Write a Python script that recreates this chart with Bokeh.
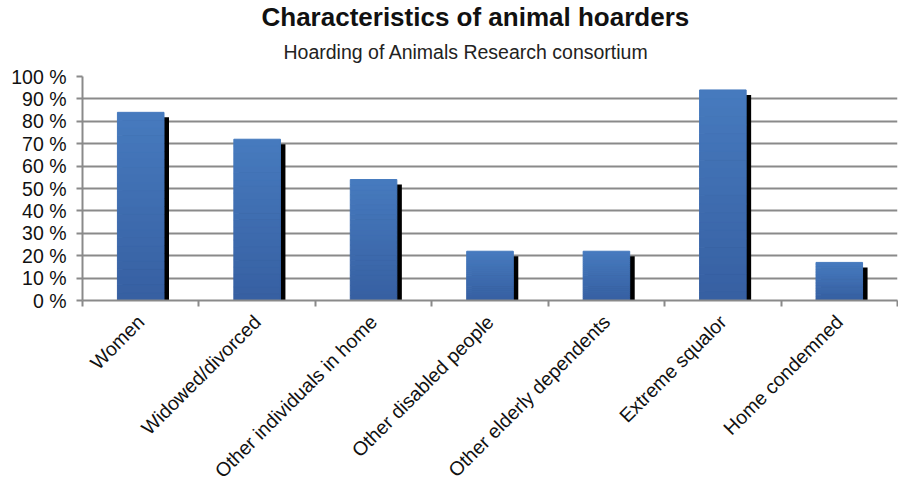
import numpy as np
from bokeh.plotting import figure
from bokeh.models import FixedTicker, Range1d, Title, ColumnDataSource
from bokeh.embed import file_html
from bokeh.resources import INLINE

categories = ["Women", "Widowed/divorced", "Other individuals in home",
              "Other disabled people", "Other elderly dependents",
              "Extreme squalor", "Home condemned"]
values = [84, 72, 54, 22, 22, 94, 17]
y_ticks = [0, 10, 20, 30, 40, 50, 60, 70, 80, 90, 100]
y_tick_labels = ["%d %%" % t for t in y_ticks]

FONT = "Liberation Sans"
n = len(categories)
centers = [i + 0.5 for i in range(n)]
bounds = list(range(n + 1))

p = figure(width=898, height=499, output_backend="svg", toolbar_location=None,
           x_range=Range1d(0, n), y_range=Range1d(0, 100),
           min_border_left=82, min_border_right=1, min_border_top=76, min_border_bottom=199)
p.outline_line_color = None
p.background_fill_color = "white"

p.add_layout(Title(text="Hoarding of Animals Research consortium", align="left",
                   text_font=FONT, text_font_size="19.5px", text_font_style="normal",
                   text_color="#222222", offset=201, standoff=28), "above")
p.add_layout(Title(text="Characteristics of animal hoarders", align="left",
                   text_font=FONT, text_font_size="26px", text_font_style="bold",
                   text_color="#111111", offset=179, standoff=-14), "above")

# shadows
bw = 0.40
dx = 5 / 116.4
dy = 5 / 2.24
sh = ColumnDataSource(dict(l=[c - bw / 2 + dx for c in centers], r=[c + bw / 2 + dx for c in centers],
                           t=[v - dy for v in values], b=[0] * n))
p.quad(left="l", right="r", top="t", bottom="b", source=sh, fill_color="black", line_color=None)

# gradient bars
N = 24
top_c = np.array([0x47, 0x7b, 0xbf])
bot_c = np.array([0x37, 0x60, 0xa2])
L, R, T, B, C = [], [], [], [], []
for c, v in zip(centers, values):
    for k in range(N):
        f = (k + 0.5) / N
        col = bot_c + (top_c - bot_c) * f
        L.append(c - bw / 2); R.append(c + bw / 2)
        B.append(v * k / N); T.append(v * (k + 1) / N)
        C.append("#%02x%02x%02x" % tuple(int(x) for x in col))
p.quad(left=L, right=R, top=T, bottom=B, fill_color=C, line_color=C, line_width=1)

# y axis
p.yaxis.ticker = FixedTicker(ticks=y_ticks)
p.yaxis.major_label_overrides = {t: s for t, s in zip(y_ticks, y_tick_labels)}
p.yaxis.major_label_text_font = FONT
p.yaxis.major_label_text_font_size = "19.5px"
p.yaxis.major_label_text_color = "#111111"
p.yaxis.axis_line_color = "#8a8a8a"
p.yaxis.axis_line_width = 2
p.yaxis.major_tick_line_color = "#8a8a8a"
p.yaxis.major_tick_line_width = 2
p.yaxis.major_tick_out = 6
p.yaxis.major_tick_in = 0
p.yaxis.minor_tick_line_color = None
p.yaxis.major_label_standoff = 10

p.ygrid.ticker = FixedTicker(ticks=y_ticks)
p.ygrid.grid_line_color = "#8a8a8a"
p.ygrid.grid_line_width = 2
p.xgrid.grid_line_color = None

# x axis
p.xaxis.ticker = FixedTicker(ticks=centers, minor_ticks=bounds)
p.xaxis.major_label_overrides = {c: s for c, s in zip(centers, categories)}
p.xaxis.major_label_orientation = np.pi / 4
p.xaxis.major_label_text_font = FONT
p.xaxis.major_label_text_font_size = "19.5px"
p.xaxis.major_label_text_color = "#111111"
p.xaxis.major_tick_out = 0
p.xaxis.major_tick_in = 0
p.xaxis.minor_tick_out = 6
p.xaxis.minor_tick_in = 0
p.xaxis.minor_tick_line_color = "#8a8a8a"
p.xaxis.minor_tick_line_width = 2
p.xaxis.axis_line_color = "#8a8a8a"
p.xaxis.axis_line_width = 2
p.xaxis.major_label_standoff = 12

open("out.html", "w").write(file_html(p, INLINE))
